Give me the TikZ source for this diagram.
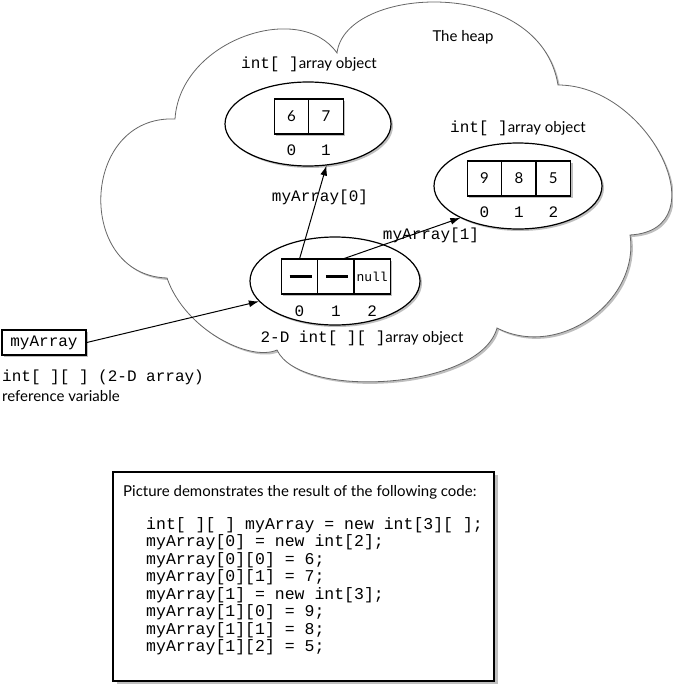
\documentclass[tikz,border=0pt]{standalone}
\usepackage{fontspec}
\setmainfont{Lato}
\setmonofont{Liberation Mono}
\usetikzlibrary{shapes,arrows.meta,positioning,shadows,calc}
\newcommand{\jcode}[1]{{\fontsize{16}{18}\selectfont\ttfamily #1}}

\tikzset{
  lightshadow/.style={drop shadow={shadow xshift=2pt, shadow yshift=-2pt, fill=black!25, opacity=1}},
  heap/.style={draw=black!60, line width=0.8pt, fill=white, lightshadow},
  arrobj/.style={ellipse, draw, line width=1.2pt, fill=white, inner sep=0pt, lightshadow},
  cell/.style={rectangle, draw, line width=1.3pt, fill=white, minimum height=35pt, inner sep=0pt, outer sep=0pt, lightshadow},
  idx/.style={font=\fontsize{16}{18}\selectfont\ttfamily, inner sep=0pt},
  ref/.style={-{Latex[length=10pt,width=7pt]}, line width=1pt},
  refbar/.style={line width=3.3pt}
}

\begin{document}
\begin{tikzpicture}[x=1pt, y=-1pt, font=\fontsize{15}{18}\selectfont]
\useasboundingbox (0,0) rectangle (672,687);

\draw[heap] (175,119) .. controls (180,40) and (300,0) .. (337,53)
  .. controls (345,-15) and (540,-25) .. (558,85)
  .. controls (650,85) and (720,230) .. (630,235)
  .. controls (640,300) and (560,360) .. (497,328)
  .. controls (480,390) and (300,400) .. (277,350)
  .. controls (250,362) and (185,330) .. (167,278)
  .. controls (75,275) and (80,115) .. cycle;
\node (heaplbl) at (463,37) {The heap};

\node[arrobj, minimum width=166pt, minimum height=84pt] (obj1) at (308,124) {};
\node[arrobj, minimum width=168pt, minimum height=86pt] (obj2) at (518,186) {};
\node[arrobj, minimum width=170pt, minimum height=88pt] (obj3) at (335,281) {};

\node (lbl1) at (309,64) {\jcode{int[ ]}array object};
\node (lbl2) at (518,128) {\jcode{int[ ]}array object};
\node (lbl3) at (362,338) {\jcode{2-D int[ ][ ]}array object};

\node[cell, minimum width=34.5pt] (a1c0) at (291.5,116.5) {6};
\node[cell, minimum width=34.5pt, right=0pt of a1c0] (a1c1) {7};
\node[idx] (i1a) at (a1c0 |- 0,150) {0};
\node[idx] (i1b) at (a1c1 |- 0,150) {1};

\node[cell, minimum width=34.4pt] (a2c0) at (484.5,178.5) {9};
\node[cell, minimum width=34.4pt, right=0pt of a2c0] (a2c1) {8};
\node[cell, minimum width=34.4pt, right=0pt of a2c1] (a2c2) {5};
\node[idx] (i2a) at (a2c0 |- 0,212) {0};
\node[idx] (i2b) at (a2c1 |- 0,212) {1};
\node[idx] (i2c) at (a2c2 |- 0,212) {2};

\node[cell, minimum width=36.3pt] (a3c0) at (299.5,276.5) {};
\node[cell, minimum width=36.3pt, right=0pt of a3c0] (a3c1) {};
\node[cell, minimum width=36.3pt, right=0pt of a3c1, font=\fontsize{13}{15}\selectfont\ttfamily] (a3c2) {null};
\node[idx] (i3a) at (a3c0 |- 0,311) {0};
\node[idx] (i3b) at (a3c1 |- 0,311) {1};
\node[idx] (i3c) at (a3c2 |- 0,311) {2};
\draw[refbar] ([xshift=-10pt]a3c0.center) -- ([xshift=12pt]a3c0.center);
\draw[refbar] ([xshift=-10pt]a3c1.center) -- ([xshift=12pt]a3c1.center);

\node[draw, line width=1.5pt, fill=white, minimum width=84pt, minimum height=25pt, lightshadow] (ref) at (44,342.5) {\jcode{myArray}};
\node[anchor=west, inner xsep=0pt] (reftype) at (2,377) {\jcode{int[ ][ ] (2-D array)}};
\node[anchor=west, inner xsep=0pt] (refnote) at (2,396) {reference variable};

\draw[ref] (ref.east) -- (obj3.195);
\draw[ref] (a3c0.north) -- (obj1.-66);
\draw[ref] ([xshift=7pt]a3c1.north) -- (obj2.-151);
\node (lblr0) at (320,197) {\jcode{myArray[0]}};
\node (lblr1) at (431,235) {\jcode{myArray[1]}};

\node[draw, line width=1.5pt, fill=white, minimum width=381pt, minimum height=209pt,
  drop shadow={shadow xshift=4pt, shadow yshift=-3pt, fill=black!25, opacity=1}] (codebox) at (303.5,576.5) {};
\node[anchor=west, inner xsep=0pt] (title) at (123,492) {Picture demonstrates the result of the following code:};
\node[anchor=north west, inner sep=0pt, align=left, font=\fontsize{16.5}{17.5}\selectfont\ttfamily] (code) at (146,517) {%
int[ ][ ] myArray = new int[3][ ];\\
myArray[0] = new int[2];\\
myArray[0][0] = 6;\\
myArray[0][1] = 7;\\
myArray[1] = new int[3];\\
myArray[1][0] = 9;\\
myArray[1][1] = 8;\\
myArray[1][2] = 5;};
\end{tikzpicture}
\end{document}
